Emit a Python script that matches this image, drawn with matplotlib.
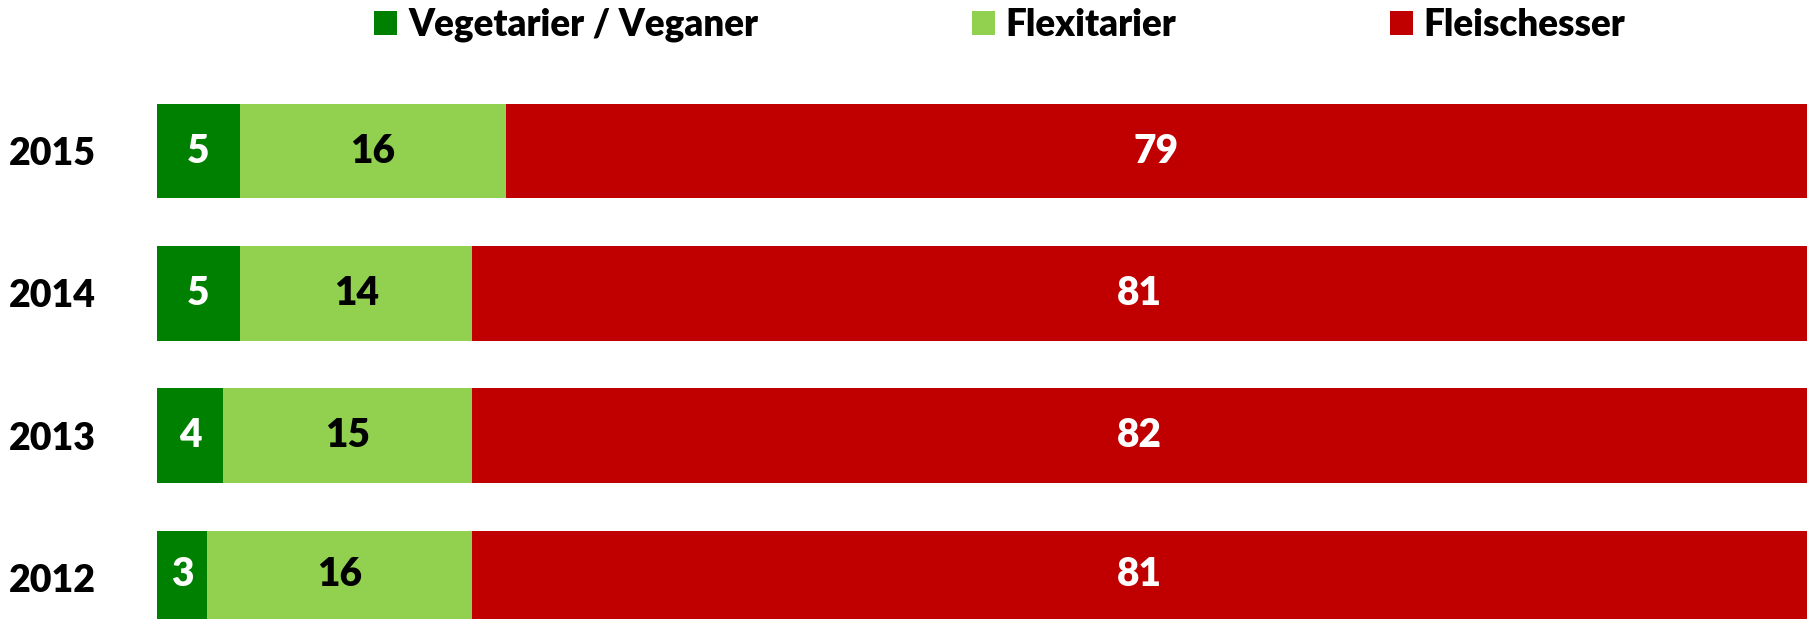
import matplotlib.pyplot as plt
import numpy as np
from matplotlib.patches import Patch

plt.rcParams['font.family'] = ['Lato', 'DejaVu Sans']
plt.rcParams['font.weight'] = 'heavy'

# Daten
jahre = ['2012', '2013', '2014', '2015']
vegetarier = [3, 4, 5, 5]
flexitarier = [16, 15, 14, 16]
fleischesser = [81, 82, 81, 79]

namen = ['Vegetarier / Veganer', 'Flexitarier', 'Fleischesser']
farben = ['#008000', '#92D050', '#C00000']
textfarben = ['white', 'black', 'white']

fig = plt.figure(figsize=(18.07, 6.19), dpi=100)
ax = fig.add_axes([157 / 1807, 0, 1650 / 1807, 1])

y = np.arange(len(jahre))
links = np.zeros(len(jahre))
for werte, farbe, tf in zip([vegetarier, flexitarier, fleischesser], farben, textfarben):
    bars = ax.barh(y, werte, left=links, height=0.664, color=farbe, edgecolor='none')
    ax.bar_label(bars, labels=[str(v) for v in werte], label_type='center',
                 color=tf, fontsize=28, fontweight='heavy')
    links = links + np.array(werte)

ax.set_xlim(0, 99.4)
ax.set_ylim(-0.288, 4.061)
ax.set_yticks(y)
ax.set_yticklabels(jahre, fontsize=27, fontweight='heavy')
ax.tick_params(axis='y', length=0, pad=44)
ax.set_xticks([])
for s in ax.spines.values():
    s.set_visible(False)

handles = [Patch(facecolor=f, edgecolor='none') for f in farben]
fig.legend(handles, namen, loc='center', bbox_to_anchor=(1000 / 1807, 1 - 25 / 619),
           ncol=3, frameon=False, prop={'weight': 'heavy', 'size': 26.5},
           handlelength=0.62, handleheight=0.62, handletextpad=0.3, columnspacing=5.8)

fig.savefig('out.png', dpi=100)
